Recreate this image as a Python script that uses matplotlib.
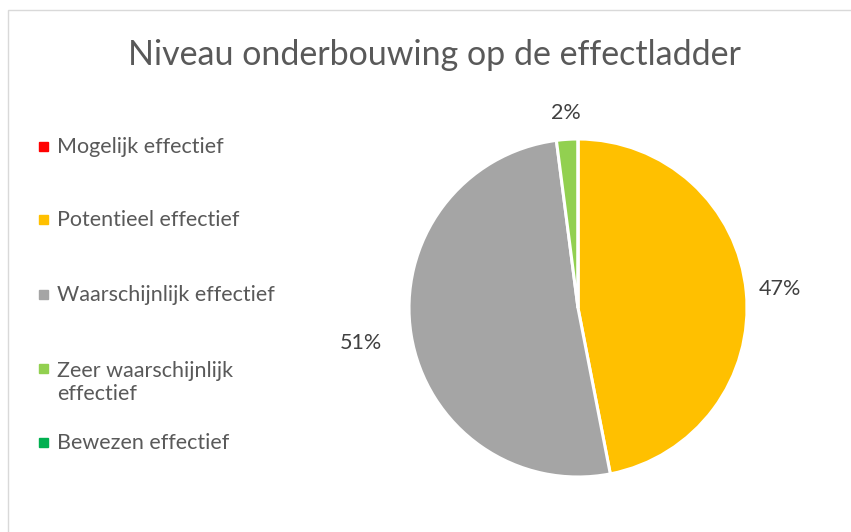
import matplotlib.pyplot as plt
from matplotlib.patches import Rectangle

# data
categories = ["Mogelijk effectief", "Potentieel effectief", "Waarschijnlijk effectief",
              "Zeer waarschijnlijk\neffectief", "Bewezen effectief"]
counts = [0, 23, 25, 1, 0]
colors = ["#FF0000", "#FFC000", "#A5A5A5", "#92D050", "#00B050"]

W, H = 851, 532
plt.rcParams['font.family'] = ['Lato', 'DejaVu Sans']

fig = plt.figure(figsize=(W / 100, H / 100), dpi=100)

# chart area border (runs off the right/bottom edge like the screenshot)
fig.patches.append(Rectangle((8 / W, -0.1), 1.0, 1 - 10 / H + 0.1, transform=fig.transFigure,
                             fill=False, edgecolor="#D9D9D9", linewidth=1.0))

fig.text(434 / W, 1 - 55 / H, "Niveau onderbouwing op de effectladder",
         ha="center", va="center", fontsize=24.5, color="#595959")

# pie
cx, cy, r = 578, 308, 169
ax = fig.add_axes([(cx - r) / W, (H - cy - r) / H, 2 * r / W, 2 * r / H])
wedges, texts, autotexts = ax.pie(
    counts, colors=colors, startangle=90, counterclock=False,
    wedgeprops=dict(edgecolor="white", linewidth=2.2),
    autopct=lambda p: f"{p:.0f}%" if p > 0 else "", pctdistance=1.2,
    textprops=dict(fontsize=15.5, color="#404040"))
ax.set_xlim(-1, 1)
ax.set_ylim(-1, 1)
ax.set_aspect("equal")

# push the labels out like Excel's best fit
label_dist = [1.2, 1.2, 1.3, 1.155, 1.2]
for t, d in zip(autotexts, label_dist):
    x, y = t.get_position()
    t.set_position((x / 1.2 * d, y / 1.2 * d))

# legend on the left
legend_y = [146, 219, 294, 368, 442]
line_h = 25
for lab, col, y in zip(categories, colors, legend_y):
    fig.patches.append(Rectangle((39 / W, 1 - (y + 4.5) / H), 9 / W, 9 / H,
                                 transform=fig.transFigure, color=col))
    extra = lab.count("\n") * line_h
    fig.text(57 / W, 1 - (y + 7 + extra) / H, lab, ha="left", va="baseline",
             fontsize=15.5, color="#595959", linespacing=1.17)

plt.savefig("out.png", dpi=100)
